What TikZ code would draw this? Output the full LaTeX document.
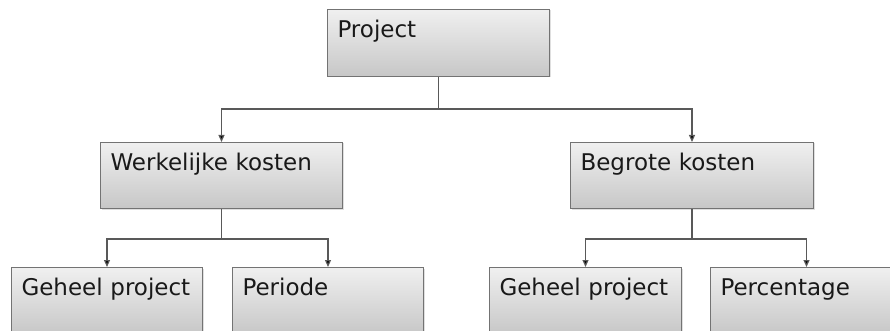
\documentclass[tikz,border=0pt]{standalone}
\usepackage{fontspec}
\setmainfont{DejaVu Sans}
\usetikzlibrary{arrows.meta,shadows}

\begin{document}
\begin{tikzpicture}[x=1pt,y=-1pt,
    blok/.style={draw=boxrand,line width=1pt,top color=boxboven,bottom color=boxonder,
        drop shadow={opacity=0.25,shadow xshift=1pt,shadow yshift=-1pt},
        anchor=north west,align=left,inner xsep=10pt,inner ysep=0pt,
        text height=28pt,text depth=39pt,text=tekst,
        font=\fontsize{23}{27}\selectfont},
    verbind/.style={draw=lijn,line width=1.2pt,-{Triangle[length=7pt,width=6pt,fill=black]}}]
    %kleuren
    \colorlet{boxboven}{black!6}
    \colorlet{boxonder}{black!22}
    \colorlet{boxrand}{black!55}
    \colorlet{lijn}{black!65}
    \colorlet{tekst}{black!90}

    \useasboundingbox (0,0) rectangle (890,331);
    \clip (0,0) rectangle (890,331);

    % blokken
    \node[blok,text width=202pt] (project) at (327,9) {Project};
    \node[blok,text width=222pt,text depth=38pt] (werkelijk) at (100,142) {Werkelijke kosten};
    \node[blok,text width=223pt,text depth=38pt] (begroot) at (570,142) {Begrote kosten};
    \node[blok,text width=171pt] (geheelA) at (11,267) {Geheel project};
    \node[blok,text width=171pt] (periode) at (232,267) {Periode};
    \node[blok,text width=172pt] (geheelB) at (489,267) {Geheel project};
    \node[blok,text width=172pt] (percentage) at (710,267) {Percentage};

    % verbindingen
    \draw[verbind] (project.south) -- +(0,32) -| (werkelijk.north);
    \draw[verbind] (project.south) -- +(0,32) -| (begroot.north);
    \draw[verbind] (werkelijk.south) -- +(0,30) -| (geheelA.north);
    \draw[verbind] (werkelijk.south) -- +(0,30) -| (periode.north);
    \draw[verbind] (begroot.south) -- +(0,30) -| (geheelB.north);
    \draw[verbind] (begroot.south) -- +(0,30) -| (percentage.north);
\end{tikzpicture}
\end{document}
